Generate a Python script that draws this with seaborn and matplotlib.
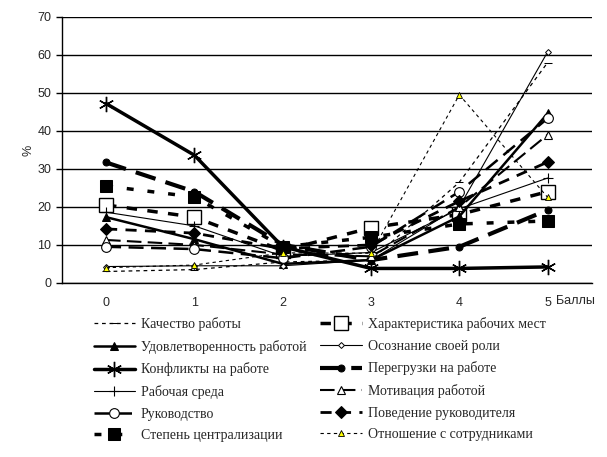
import pandas as pd
import seaborn as sns
import matplotlib.pyplot as plt
from matplotlib.ticker import FixedLocator

# Баллы 0..5
scores = [0, 1, 2, 3, 4, 5]

kachestvo = [3.0, 3.5, 5.5, 6.0, 26.5, 58.0]
harakteristika = [20.5, 17.3, 8.5, 14.5, 18.0, 24.0]
udovletvorennost = [17.3, 11.5, 5.0, 6.0, 17.5, 44.6]
osoznanie = [4.3, 4.5, 4.5, 6.0, 20.0, 60.8]
konflikty = [47.2, 33.6, 9.5, 3.8, 3.8, 4.2]
peregruzki = [31.7, 24.0, 10.0, 6.0, 9.5, 19.2]
sreda = [18.6, 15.0, 7.0, 8.0, 19.5, 27.6]
motivacia = [11.3, 10.0, 7.5, 7.0, 20.0, 39.0]
rukovodstvo = [9.5, 8.9, 6.5, 9.5, 24.0, 43.3]
povedenie = [14.2, 13.1, 9.0, 10.0, 21.5, 31.8]
centralizacia = [25.5, 22.6, 9.5, 12.0, 15.5, 16.3]
otnoshenie = [4.0, 4.7, 7.9, 7.8, 49.5, 22.5]

series = [
    ("Качество работы", kachestvo,
     dict(lw=0.9, dashes=(3, 3), marker="_", ms=6, mec="black")),
    ("Характеристика рабочих мест", harakteristika,
     dict(lw=2.5, dashes=(3, 3), marker="s", ms=10, mfc="white", mec="black", mew=1)),
    ("Удовлетворенность работой", udovletvorennost,
     dict(lw=1.8, marker="^", ms=6, mfc="black", mec="black")),
    ("Осознание своей роли", osoznanie,
     dict(lw=0.8, marker="D", ms=3, mfc="white", mec="black", mew=0.7)),
    ("Конфликты на работе", konflikty,
     dict(lw=2.5, marker=(6, 2, 0), ms=11, mec="black", mew=1)),
    ("Перегрузки на работе", peregruzki,
     dict(lw=3, dashes=(5, 2.5), marker="o", ms=5, mfc="black", mec="black")),
    ("Рабочая среда", sreda,
     dict(lw=0.8, marker="+", ms=7, mec="black", mew=0.8)),
    ("Мотивация работой", motivacia,
     dict(lw=1.5, dashes=(7, 3), marker="^", ms=6, mfc="white", mec="black", mew=0.8)),
    ("Руководство", rukovodstvo,
     dict(lw=1.8, dashes=(6, 3), marker="o", ms=7, mfc="white", mec="black", mew=0.8)),
    ("Поведение руководителя", povedenie,
     dict(lw=2, dashes=(4, 3), marker="D", ms=6, mfc="black", mec="black")),
    ("Степень централизации", centralizacia,
     dict(lw=2.5, dashes=(2, 4), marker="s", ms=9, mfc="black", mec="black")),
    ("Отношение с сотрудниками", otnoshenie,
     dict(lw=0.8, dashes=(3, 3), marker="^", ms=4, mfc="#ffff00", mec="black", mew=0.6)),
]

sns.set_style("white")
plt.rcParams["font.family"] = ["Liberation Sans", "DejaVu Sans"]

fig = plt.figure(figsize=(6.07, 4.57), dpi=100)
ax = fig.add_axes([0.102, 0.381, 0.873, 0.582])

handles = {}
for name, vals, st in series:
    df = pd.DataFrame({"x": scores, "y": vals})
    st = dict(st)
    dashes = st.pop("dashes", None)
    sns.lineplot(data=df, x="x", y="y", ax=ax, color="black", label=name, **st)
    line = ax.get_lines()[-1]
    if dashes is not None:
        line.set_dashes(dashes)
    handles[name] = line

ax.set_xlim(-0.5, 5.5)
ax.set_ylim(0, 70)
ax.set_yticks(range(0, 71, 10))
ax.yaxis.grid(True, color="black", lw=1)
ax.set_axisbelow(True)
ax.set_xticks(scores)
ax.xaxis.set_minor_locator(FixedLocator([0.5, 1.5, 2.5, 3.5, 4.5, 5.5]))
ax.tick_params(axis="x", which="major", length=0, labelsize=9, pad=10)
ax.tick_params(axis="x", which="minor", length=4, width=1, color="black", direction="out")
ax.tick_params(axis="y", length=4, width=1, color="black", direction="out", labelsize=9, left=True)
ax.set_xlabel("")
ax.set_ylabel("%", fontsize=9, labelpad=2)

for side in ["top", "right"]:
    ax.spines[side].set_visible(False)
for side in ["left", "bottom"]:
    ax.spines[side].set_color("black")
    ax.spines[side].set_linewidth(1)

ax.text(5.1, -0.047, "Баллы", transform=ax.get_xaxis_transform(), fontsize=9,
        va="top", ha="left")

ax.get_legend().remove()
col1 = [series[i][0] for i in range(0, 12, 2)]
col2 = [series[i][0] for i in range(1, 12, 2)]
order = col1 + col2
fig.legend([handles[n] for n in order], order, loc="upper left",
           bbox_to_anchor=(0.145, 0.318), ncol=2, frameon=False,
           prop={"family": "Liberation Serif", "size": 10},
           handlelength=3.0, labelspacing=0.62, columnspacing=1.0,
           handletextpad=0.4, borderaxespad=0)

plt.savefig("out.png", dpi=100)
plt.close()
